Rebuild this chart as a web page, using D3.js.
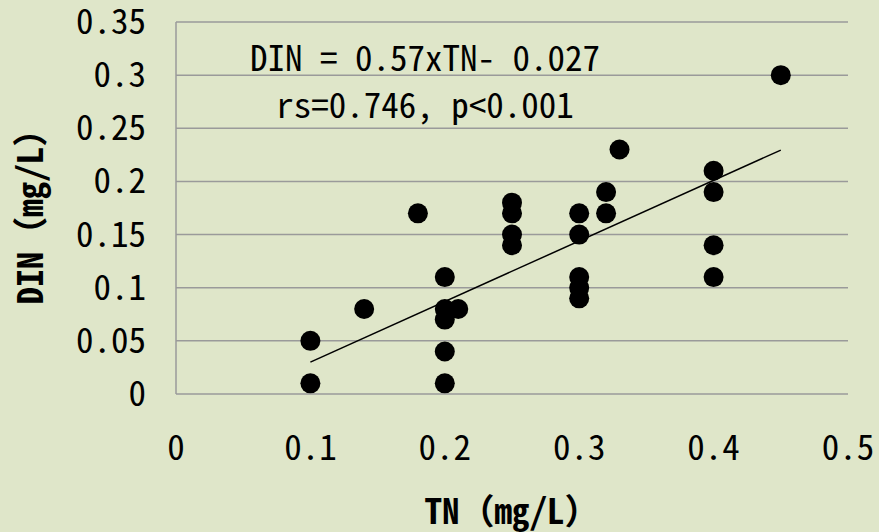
<!DOCTYPE html>
<html>
<head>
<meta charset="utf-8">
<script src="https://cdn.jsdelivr.net/npm/d3@7"></script>
<style>
  html, body { margin: 0; padding: 0; background: #dfe6c9; }
  svg text {
    font-family: "Noto Sans CJK JP", "DejaVu Sans Mono", monospace;
    font-feature-settings: "hwid";
    fill: #000;
  }
  svg tspan.fw { font-feature-settings: normal; }
</style>
</head>
<body>
<svg id="chart" width="879" height="532"></svg>
<script>
// TN vs DIN samples (mg/L)
const tnValues  = [0.1, 0.1, 0.14, 0.18, 0.2, 0.2, 0.2, 0.2, 0.2, 0.21, 0.25, 0.25, 0.25, 0.25, 0.3, 0.3, 0.3, 0.3, 0.3, 0.32, 0.32, 0.33, 0.4, 0.4, 0.4, 0.4, 0.45];
const dinValues = [0.05, 0.01, 0.08, 0.17, 0.11, 0.08, 0.07, 0.04, 0.01, 0.08, 0.18, 0.17, 0.15, 0.14, 0.17, 0.15, 0.11, 0.10, 0.09, 0.19, 0.17, 0.23, 0.21, 0.19, 0.14, 0.11, 0.30];
const xTicks = [0, 0.1, 0.2, 0.3, 0.4, 0.5];
const yTicks = [0, 0.05, 0.1, 0.15, 0.2, 0.25, 0.3, 0.35];
const slope = 0.57, intercept = -0.027;
const eqLabel = "DIN = 0.57xTN- 0.027";
const statLabel = "rs=0.746, p<0.001";

const svg = d3.select("#chart");
const plotL = 176, plotR = 848, plotT = 22, plotB = 394;

const x = d3.scaleLinear().domain([0, 0.5]).range([plotL, plotR]);
const y = d3.scaleLinear().domain([0, 0.35]).range([plotB, plotT]);

// gridlines
svg.append("g").selectAll("line")
  .data(yTicks).enter().append("line")
  .attr("x1", plotL).attr("x2", plotR)
  .attr("y1", d => y(d)).attr("y2", d => y(d))
  .attr("stroke", "#9a9a9a").attr("stroke-width", 1.5);

svg.append("line")
  .attr("x1", plotL).attr("x2", plotL)
  .attr("y1", plotT).attr("y2", plotB)
  .attr("stroke", "#9a9a9a").attr("stroke-width", 1.5);

// tick labels
const fmt = d => String(+d.toFixed(2));
svg.append("g").selectAll("text")
  .data(yTicks).enter().append("text")
  .attr("x", 146).attr("y", d => y(d) + 12)
  .attr("text-anchor", "end")
  .attr("font-size", 35)
  .text(fmt);

svg.append("g").selectAll("text")
  .data(xTicks).enter().append("text")
  .attr("x", d => x(d)).attr("y", 460)
  .attr("text-anchor", "middle")
  .attr("font-size", 35)
  .text(fmt);

// axis titles (full-width brackets)
function title(sel, name) {
  sel.append("tspan").text(name);
  sel.append("tspan").attr("class", "fw").text("（");
  sel.append("tspan").text("mg/L");
  sel.append("tspan").attr("class", "fw").text("）");
}
svg.append("text")
  .attr("x", 512).attr("y", 524)
  .attr("text-anchor", "middle")
  .attr("font-size", 35).attr("font-weight", "bold")
  .call(title, "TN");

svg.append("text")
  .attr("transform", "translate(43," + ((plotT + plotB) / 2) + ") rotate(-90)")
  .attr("text-anchor", "middle")
  .attr("font-size", 35).attr("font-weight", "bold")
  .call(title, "DIN");

// trend line
const xr = d3.extent(tnValues);
svg.append("line")
  .attr("x1", x(xr[0])).attr("y1", y(slope * xr[0] + intercept))
  .attr("x2", x(xr[1])).attr("y2", y(slope * xr[1] + intercept))
  .attr("stroke", "#000").attr("stroke-width", 1.5);

// points
svg.append("g").selectAll("circle")
  .data(tnValues.map((t, i) => [t, dinValues[i]]))
  .enter().append("circle")
  .attr("cx", d => x(d[0])).attr("cy", d => y(d[1]))
  .attr("r", 10).attr("fill", "#000");

// annotation
svg.append("text")
  .attr("x", 425).attr("y", 71)
  .attr("text-anchor", "middle").attr("font-size", 35)
  .text(eqLabel);
svg.append("text")
  .attr("x", 425).attr("y", 118)
  .attr("text-anchor", "middle").attr("font-size", 35)
  .text(statLabel);
</script>
</body>
</html>
